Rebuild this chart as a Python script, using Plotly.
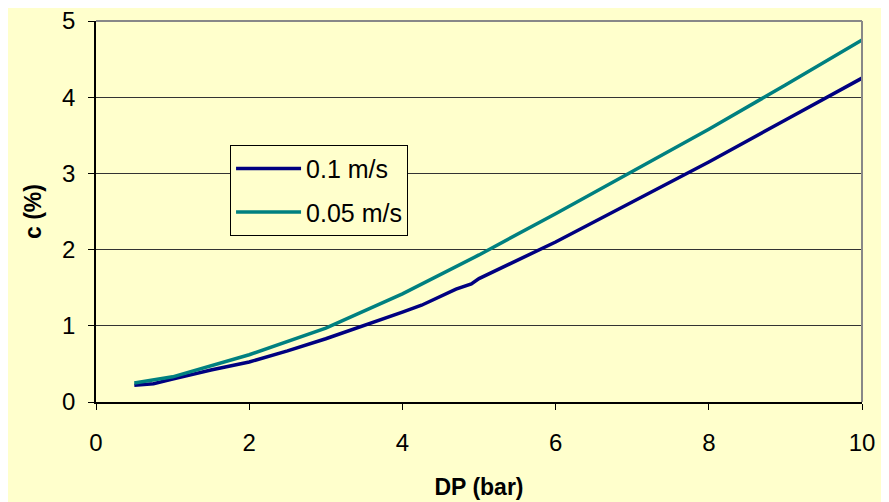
import plotly.graph_objects as go

dp = [0.5, 0.75, 1, 1.5, 2, 2.5, 3, 3.5, 4, 4.25, 4.5, 4.7, 4.9, 5, 6, 7, 8, 9, 10]
c_01 = [0.22, 0.24, 0.30, 0.42, 0.525, 0.67, 0.83, 1.0, 1.18, 1.27, 1.38, 1.48, 1.55, 1.62, 2.1, 2.62, 3.15, 3.7, 4.25]
dp2 = [0.5, 1, 2, 3, 4, 5, 6, 7, 8, 9, 10]
c_005 = [0.25, 0.33, 0.62, 0.97, 1.42, 1.93, 2.47, 3.02, 3.58, 4.16, 4.75]

x_ticks = [0, 2, 4, 6, 8, 10]
y_ticks = [0, 1, 2, 3, 4, 5]

bg = "#FFFFCC"
fig = go.Figure()
fig.add_trace(go.Scatter(x=dp, y=c_01, mode="lines", name="0.1 m/s", legendgroup="a",
                         line=dict(color="#000080", width=3.5)))
fig.add_trace(go.Scatter(x=dp2, y=c_005, mode="lines", name="0.05 m/s", legendgroup="b",
                         line=dict(color="#008080", width=3.5)))

fig.update_layout(
    width=881, height=494,
    paper_bgcolor=bg, plot_bgcolor=bg,
    margin=dict(l=88, r=27, t=13, b=100),
    font=dict(family="Arial, Liberation Sans, sans-serif", size=24, color="black"),
    showlegend=True,
    legend=dict(x=0.175, y=0.675, xanchor="left", yanchor="top",
                bgcolor=bg, bordercolor="black", borderwidth=1,
                font=dict(size=25), traceorder="grouped", tracegroupgap=8,
                itemwidth=65),
    xaxis=dict(range=[0, 10], tickvals=x_ticks, showgrid=False, zeroline=False,
               showline=True, linecolor="black", linewidth=1.5, automargin=False,
               ticks="outside", ticklen=6, tickcolor="black", ticklabelstandoff=12,
               title=dict(text="<b>DP (bar)</b>", standoff=24, font=dict(size=23))),
    yaxis=dict(range=[0, 5], tickvals=y_ticks, showgrid=True, gridcolor="#333333",
               gridwidth=1, zeroline=False, automargin=False,
               showline=True, linecolor="black", linewidth=1.5,
               ticks="outside", ticklen=6, tickcolor="black", ticklabelstandoff=8,
               ticklabeloverflow="allow",
               title=dict(text="<b>c (%)</b>", standoff=14, font=dict(size=23))),
)
fig.add_shape(type="line", xref="paper", yref="paper", x0=0, x1=1, y0=1, y1=1,
              line=dict(color="#888888", width=2))
fig.add_shape(type="line", xref="paper", yref="paper", x0=1, x1=1, y0=0, y1=1,
              line=dict(color="#888888", width=2))
fig.write_html("out.html")
